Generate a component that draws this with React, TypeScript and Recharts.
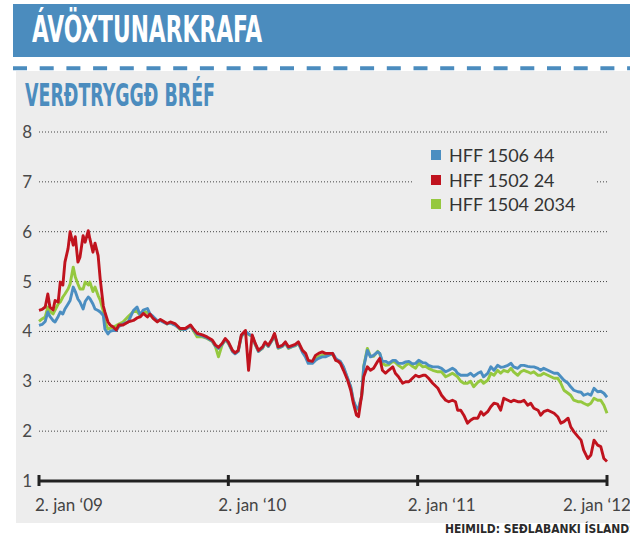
import { LineChart, Line, XAxis, YAxis, CartesianGrid, Legend } from "recharts";

// days since 2. jan 2009
const days = [
  0, 6, 12, 17, 21, 27, 31, 37, 41, 46, 50, 56, 60, 66, 70, 75, 79, 85, 89, 95, 98, 104, 108, 114, 118, 124, 127, 133, 137, 143, 149, 154, 162, 172, 182,
  189, 195, 201, 209, 214, 220, 228, 234, 239, 247, 253, 263, 272, 282, 292, 297, 305, 315, 324, 334, 340, 346, 353, 359, 365, 373, 378, 384,
  390, 398, 404, 411, 417, 423, 431, 436, 442, 450, 454, 461, 469, 475, 481, 489, 494, 500, 508, 514, 519, 527, 533, 539, 546, 552, 558, 566, 572, 577,
  581, 587, 595, 601, 606, 612, 616, 622, 626, 633, 639, 645, 653, 657, 662, 668, 674, 682, 687, 693, 701, 707, 713, 720, 726, 732, 740, 745, 751, 759, 769, 776,
  784, 790, 797, 803, 807, 813, 819, 826, 832, 838, 846, 852, 857, 865, 871, 877, 884, 890, 896, 904, 910, 915, 923,
  929, 935, 942, 948, 954, 962, 967, 973, 981, 987, 993, 1000, 1006, 1012, 1020, 1025, 1031, 1039, 1045, 1050, 1058, 1064, 1070, 1077, 1083, 1089, 1095,
];

const hff150644 = [
  4.12, 4.14, 4.2, 4.39, 4.3, 4.22, 4.19, 4.3, 4.39, 4.35, 4.45, 4.55, 4.62, 4.89, 4.8, 4.65, 4.59, 4.45, 4.6, 4.69, 4.66, 4.55, 4.45, 4.42, 4.39, 4.32, 4.05, 3.95, 4.0, 4.02, 4.02, 4.1, 4.15, 4.19, 4.42,
  4.49, 4.33, 4.43, 4.46, 4.35, 4.3, 4.22, 4.22, 4.19, 4.15, 4.17, 4.12, 4.05, 4.04, 4.11, 4.04, 3.94, 3.91, 3.87, 3.81, 3.71, 3.66, 3.74, 3.84, 3.77, 3.6, 3.55, 3.6,
  3.91, 4.0, 3.95, 3.91, 3.74, 3.6, 3.67, 3.77, 3.7, 3.84, 3.94, 3.67, 3.7, 3.77, 3.67, 3.7, 3.72, 3.77, 3.58, 3.48, 3.36, 3.36, 3.42, 3.46, 3.49, 3.49, 3.52, 3.56, 3.46, 3.42,
  3.4, 3.29, 3.06, 2.89, 2.62, 2.46, 2.46, 2.69, 3.29, 3.62, 3.49, 3.52, 3.59, 3.56, 3.4, 3.4, 3.36, 3.42, 3.42, 3.36, 3.36, 3.39, 3.4, 3.35, 3.36, 3.42, 3.37, 3.37, 3.32, 3.29, 3.29, 3.26,
  3.19, 3.22, 3.26, 3.22, 3.16, 3.12, 3.12, 3.12, 3.16, 3.1, 3.16, 3.19, 3.09, 3.16, 3.29, 3.22, 3.32, 3.28, 3.29, 3.32, 3.36, 3.29, 3.26,
  3.32, 3.32, 3.3, 3.29, 3.29, 3.26, 3.22, 3.26, 3.22, 3.19, 3.16, 3.16, 3.09, 3.02, 2.96, 2.89, 2.82, 2.79, 2.78, 2.72, 2.75, 2.72, 2.86, 2.79, 2.8, 2.76, 2.68,
];

const hff150224 = [
  4.42, 4.44, 4.49, 4.75, 4.49, 4.43, 4.62, 4.59, 4.99, 4.93, 5.39, 5.66, 6.0, 5.73, 5.9, 5.39, 5.49, 5.92, 5.79, 6.02, 5.86, 5.59, 5.77, 5.52, 5.05, 4.51, 4.39, 4.19, 4.13, 4.09, 4.03, 4.13, 4.13, 4.19, 4.22,
  4.27, 4.29, 4.36, 4.29, 4.35, 4.26, 4.19, 4.24, 4.21, 4.16, 4.19, 4.15, 4.06, 4.06, 4.13, 4.06, 3.96, 3.93, 3.89, 3.83, 3.73, 3.68, 3.76, 3.86, 3.79, 3.62, 3.57, 3.62,
  3.93, 4.02, 3.22, 3.93, 3.76, 3.62, 3.69, 3.79, 3.72, 3.86, 3.96, 3.69, 3.72, 3.79, 3.69, 3.72, 3.74, 3.79, 3.62, 3.56, 3.42, 3.4, 3.52, 3.56, 3.59, 3.56, 3.56, 3.56, 3.42, 3.4,
  3.36, 3.22, 3.02, 2.82, 2.56, 2.32, 2.29, 2.72, 3.09, 3.29, 3.22, 3.26, 3.4, 3.46, 3.22, 3.16, 3.22, 3.29, 3.16, 3.09, 2.96, 2.99, 2.99, 3.06, 3.12, 3.09, 3.12, 3.12, 3.06, 2.96, 2.86, 2.72,
  2.62, 2.59, 2.62, 2.59, 2.42, 2.42, 2.32, 2.16, 2.22, 2.26, 2.26, 2.39, 2.32, 2.39, 2.49, 2.56, 2.54, 2.42, 2.66, 2.62, 2.59, 2.62, 2.59,
  2.59, 2.62, 2.52, 2.56, 2.46, 2.42, 2.32, 2.39, 2.42, 2.39, 2.36, 2.29, 2.16, 2.19, 2.26, 2.09, 1.99, 1.89, 1.82, 1.62, 1.45, 1.52, 1.82, 1.72, 1.69, 1.45, 1.39,
];

const hff15042034 = [
  4.2, 4.25, 4.29, 4.49, 4.4, 4.35, 4.43, 4.55, 4.59, 4.69, 4.75, 4.85, 4.95, 5.29, 5.09, 4.95, 4.85, 4.85, 4.99, 4.93, 4.99, 4.8, 4.89, 4.72, 4.63, 4.4, 4.2, 4.05, 4.06, 4.09, 4.12, 4.15, 4.19, 4.3, 4.4,
  4.4, 4.32, 4.4, 4.38, 4.33, 4.27, 4.2, 4.22, 4.2, 4.15, 4.17, 4.13, 4.04, 4.05, 4.1, 4.03, 3.89, 3.89, 3.86, 3.8, 3.7, 3.49, 3.73, 3.83, 3.76, 3.6, 3.56, 3.6,
  3.9, 3.99, 3.94, 3.9, 3.73, 3.6, 3.66, 3.76, 3.7, 3.83, 3.93, 3.66, 3.7, 3.76, 3.66, 3.7, 3.71, 3.76, 3.6, 3.52, 3.4, 3.38, 3.46, 3.5, 3.52, 3.52, 3.53, 3.54, 3.44, 3.4,
  3.38, 3.27, 3.05, 2.88, 2.6, 2.44, 2.44, 2.7, 3.3, 3.66, 3.5, 3.5, 3.6, 3.55, 3.36, 3.32, 3.33, 3.4, 3.38, 3.32, 3.26, 3.32, 3.36, 3.3, 3.26, 3.36, 3.29, 3.3, 3.26, 3.22, 3.19, 3.19,
  3.09, 3.12, 3.16, 3.12, 3.09, 3.0, 2.96, 2.96, 3.0, 2.89, 2.98, 3.02, 2.96, 3.02, 3.16, 3.12, 3.22, 3.16, 3.22, 3.19, 3.26, 3.19, 3.12,
  3.19, 3.22, 3.19, 3.16, 3.19, 3.12, 3.12, 3.16, 3.12, 3.09, 3.06, 3.06, 2.96, 2.82, 2.76, 2.72, 2.62, 2.59, 2.59, 2.56, 2.52, 2.56, 2.66, 2.62, 2.62, 2.52, 2.36,
];

const xTicks = [0, 365, 730, 1095];
const xTickLabels = ["2. jan ‘09", "2. jan ‘10", "2. jan ‘11", "2. jan ‘12"];
const yTicks = [1, 2, 3, 4, 5, 6, 7, 8];

const SERIES = [
  { key: "hff150644", name: "HFF 1506 44", color: "#4B8EC1" },
  { key: "hff150224", name: "HFF 1502 24", color: "#C0131E" },
  { key: "hff15042034", name: "HFF 1504 2034", color: "#95C83F" },
];
const DRAW_ORDER = ["hff15042034", "hff150644", "hff150224"];

const rows = days.map((d, i) => ({
  day: d,
  hff150644: hff150644[i],
  hff150224: hff150224[i],
  hff15042034: hff15042034[i],
}));

const BLUE = "#4B8CBE";
const FONT = "Lato, 'Open Sans', sans-serif";
const COND = "'DejaVu Sans Condensed', 'DejaVu Sans', sans-serif";

function XTick(props: any) {
  const { x, y, payload } = props;
  const i = xTicks.indexOf(payload.value);
  const dx = i === 0 ? -4 : i === xTicks.length - 1 ? -44 : -10;
  return (
    <g>
      <line x1={x} x2={x} y1={y - 6} y2={y + 5} stroke="#222" strokeWidth={3} />
      <text x={x + dx} y={y + 30} fontSize={17} fill="#444" fontFamily={FONT}>
        {xTickLabels[i]}
      </text>
    </g>
  );
}

function LegendBox() {
  return (
    <div style={{ background: "#EDEDED", width: 182, paddingLeft: 18, boxSizing: "border-box" }}>
      {SERIES.map(s => (
        <div key={s.key} style={{ display: "flex", alignItems: "center", height: 24.5 }}>
          <span style={{ width: 10, height: 10, background: s.color, marginRight: 8, display: "inline-block" }} />
          <span style={{ fontFamily: FONT, fontSize: 18, color: "#333", lineHeight: "20px" }}>{s.name}</span>
        </div>
      ))}
    </div>
  );
}

export default function App() {
  return (
    <div style={{ position: "absolute", left: 0, top: 0, width: 630, height: 545, overflow: "hidden", background: "#fff" }}>
      <svg width={630} height={545} style={{ position: "absolute", left: 0, top: 0 }}>
        <rect x={16} y={71} width={614} height={452} fill="#EDEDED" />
        <rect x={13} y={4} width={617} height={53} fill={BLUE} />
        <text x={32} y={42} fill="#fff" fontSize={31} fontWeight="bold" fontFamily={COND} textLength={230} lengthAdjust="spacingAndGlyphs" transform="translate(0,42) scale(1,1.2) translate(0,-42)">
          ÁVÖXTUNARKRAFA
        </text>
        <line x1={13} x2={630} y1={68.3} y2={68.3} stroke={BLUE} strokeWidth={4} strokeDasharray="14 12.7" />
        <text x={25} y={106} fill={BLUE} fontSize={26} fontWeight="bold" fontFamily={COND} textLength={190} lengthAdjust="spacingAndGlyphs" transform="translate(0,106) scale(1,1.2) translate(0,-106)">
          VERÐTRYGGÐ BRÉF
        </text>
        <text x={445} y={533} fill="#2a2a2a" fontSize={11.5} fontWeight="bold" fontFamily={COND} textLength={192} lengthAdjust="spacingAndGlyphs" transform="translate(0,533) scale(1,1.1) translate(0,-533)">
          HEIMILD: SEÐLABANKI ÍSLANDS
        </text>
      </svg>
      <div style={{ position: "absolute", left: 0, top: 0 }}>
        <LineChart width={630} height={545} data={rows} margin={{ top: 132, right: 23, bottom: 24, left: 9 }}>
          <CartesianGrid vertical={false} stroke="#444" strokeDasharray="1 2" />
          <YAxis
            type="number"
            domain={[1, 8]}
            ticks={yTicks}
            width={30}
            axisLine={false}
            tickLine={false}
            tickSize={0}
            tickMargin={7}
            interval={0}
            tick={{ fontSize: 17, fill: "#4a4a4a", fontFamily: FONT }}
          />
          <XAxis
            dataKey="day"
            type="number"
            domain={[0, 1095]}
            ticks={xTicks}
            height={40}
            interval={0}
            tickSize={0}
            tickMargin={0}
            tickLine={false}
            axisLine={{ stroke: "#222", strokeWidth: 3 }}
            tick={<XTick />}
          />
          <Legend layout="vertical" align="center" verticalAlign="middle" wrapperStyle={{ left: 413, top: 143, width: 182 }} content={() => <LegendBox />} />
          {DRAW_ORDER.map(k => {
            const s = SERIES.find(x => x.key === k)!;
            return (
              <Line
                key={s.key}
                dataKey={s.key}
                name={s.name}
                type="linear"
                stroke={s.color}
                strokeWidth={2.9}
                strokeLinejoin="round"
                dot={false}
                isAnimationActive={false}
              />
            );
          })}
        </LineChart>
      </div>
    </div>
  );
}
